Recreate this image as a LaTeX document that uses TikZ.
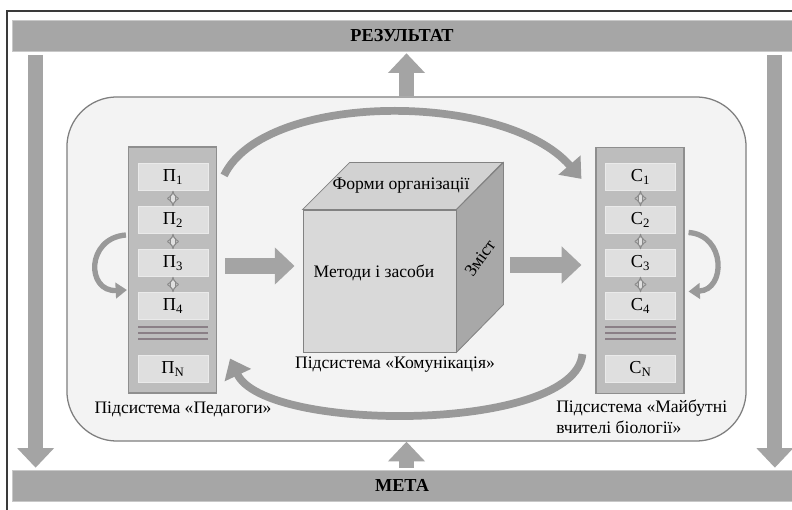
\documentclass[tikz,border=0pt]{standalone}
\usepackage{fontspec}
\setmainfont{Liberation Serif}
\usetikzlibrary{arrows.meta}

\definecolor{bargray}{HTML}{A6A6A6}
\definecolor{barline}{HTML}{C8C8C8}
\definecolor{framegray}{HTML}{3A3A3A}
\definecolor{sysgray}{HTML}{F3F3F3}
\definecolor{sysline}{HTML}{7F7F7F}
\definecolor{colgray}{HTML}{BDBDBD}
\definecolor{colline}{HTML}{8E8E8E}
\definecolor{boxgray}{HTML}{DFDFDF}
\definecolor{boxline}{HTML}{EAEAEA}
\definecolor{sepgray}{HTML}{8A7F86}
\definecolor{dblgray}{HTML}{8A8A8A}
\definecolor{arrowgray}{HTML}{A4A4A4}
\definecolor{curvegray}{HTML}{999999}
\definecolor{cubefront}{HTML}{D9D9D9}
\definecolor{cubetop}{HTML}{D2D2D2}
\definecolor{cubeside}{HTML}{A8A8A8}
\definecolor{cubeline}{HTML}{828282}

\begin{document}
\begin{tikzpicture}[x=0.025cm, y=-0.025cm,
  bar/.style={rectangle, fill=bargray, draw=barline, minimum width=19.5cm, minimum height=0.775cm, inner sep=0pt, font=\fontsize{13}{15}\selectfont\bfseries},
  column/.style={rectangle, fill=colgray, draw=colline, line width=0.8pt, minimum width=2.2cm, minimum height=6.15cm, inner sep=0pt},
  member/.style={rectangle, fill=boxgray, draw=boxline, minimum width=1.75cm, minimum height=0.675cm, inner sep=0pt, font=\fontsize{13}{15}\selectfont},
  blockarrow/.style={draw=arrowgray, line width=10.7pt, -{Triangle[width=25.5pt,length=14pt]}},
  curvearrow/.style={draw=curvegray, line width=5.5pt, -{Triangle[width=20pt,length=13pt]}},
  looparrow/.style={draw=curvegray, line width=3.8pt, -{Triangle[width=11pt,length=8pt]}},
  dblarrow/.style={draw=dblgray, double=boxgray, double distance=2.2pt, line width=0.7pt, {Implies}-{Implies}},
  sepline/.style={draw=sepgray, line width=1pt},
  caption/.style={font=\fontsize{12.5}{15}\selectfont, inner sep=0pt}]

\useasboundingbox (0,0) rectangle (792,510);
\fill[white] (0,0) rectangle (792,510);
\draw[framegray, line width=0.8pt] (7,510) -- (7,11) -- (792,11);

\node[bar] (res) at (402,35.5) {РЕЗУЛЬТАТ};
\node[bar] (meta) at (402,485.5) {МЕТА};

\node[rectangle, rounded corners=1.25cm, fill=sysgray, draw=sysline, line width=0.9pt, minimum width=16.975cm, minimum height=8.6cm, inner sep=0pt] (sys) at (406.5,269) {};

\draw[blockarrow] ([shift={(24,4)}]res.south west) -- ([shift={(24,-2)}]meta.north west);
\draw[blockarrow] ([shift={(-17.5,4)}]res.south east) -- ([shift={(-17.5,-2)}]meta.north east);
\draw[blockarrow] (sys.north) -- ([yshift=-0.05cm]sys.north |- res.south);
\draw[blockarrow] ([yshift=0.05cm]meta.north -| sys.south) -- (sys.south);

\node[column] (ped) at (172.5,270) {};
\node[member] (p1) at (173,177) {П\textsubscript{1}};
\node[member] (p2) at (173,220) {П\textsubscript{2}};
\node[member] (p3) at (173,263) {П\textsubscript{3}};
\node[member] (p4) at (173,306) {П\textsubscript{4}};
\node[member] (pN) at (173,369) {П\textsubscript{N}};
\draw[dblarrow] (p1) -- (p2);
\draw[dblarrow] (p2) -- (p3);
\draw[dblarrow] (p3) -- (p4);
\draw[sepline] (138,327) -- (208,327);
\draw[sepline] (138,333) -- (208,333);
\draw[sepline] (138,339) -- (208,339);
\node[caption] (pedlabel) at (183,409) {Підсистема «Педагоги»};

\node[column] (stud) at (640,270.5) {};
\node[member] (c1) at (640.5,177) {С\textsubscript{1}};
\node[member] (c2) at (640.5,220) {С\textsubscript{2}};
\node[member] (c3) at (640.5,263) {С\textsubscript{3}};
\node[member] (c4) at (640.5,306) {С\textsubscript{4}};
\node[member] (cN) at (640.5,369) {С\textsubscript{N}};
\draw[dblarrow] (c1) -- (c2);
\draw[dblarrow] (c2) -- (c3);
\draw[dblarrow] (c3) -- (c4);
\draw[sepline] (605,327) -- (676,327);
\draw[sepline] (605,333) -- (676,333);
\draw[sepline] (605,339) -- (676,339);
\node[caption, align=left, anchor=north west] (studlabel) at (556,400) {Підсистема «Майбутні\\вчителі біології»};

\node[rectangle, fill=cubefront, draw=cubeline, line width=0.6pt, minimum width=3.825cm, minimum height=3.55cm, inner sep=0pt] (cube) at (379.5,281) {};
\draw[cubeline, line width=0.6pt, fill=cubetop] (cube.north west) -- ++(47,-47) -- ++(153,0) -- (cube.north east) -- cycle;
\draw[cubeline, line width=0.6pt, fill=cubeside] (cube.north east) -- ++(47,-47) -- ++(0,142) -- (cube.south east) -- cycle;
\node[caption] (forms) at (401,186) {Форми організації};
\node[caption] (methods) at (374,273) {Методи і засоби};
\node[caption, rotate=55] (content) at (480,258) {Зміст};
\node[caption] (comlabel) at (395,365) {Підсистема «Комунікація»};

\draw[blockarrow] ([shift={(8,-4)}]ped.east) -- ([shift={(-8,-15)}]cube.west);
\draw[blockarrow] ([shift={(54,-16)}]cube.east) -- ([shift={(-14,-5.5)}]stud.west);

\draw[curvearrow] ([shift={(7,29)}]ped.north east) .. controls (265,91) and (505,91) .. ([shift={(-14,32)}]stud.north west);
\draw[curvearrow] ([shift={(-13,-40)}]stud.south west) .. controls (575,433) and (265,433) .. ([shift={(13,-35)}]ped.south east);

\draw[looparrow] ([shift={(-2,-35)}]ped.west) .. controls (86,238) and (86,292) .. ([shift={(-1,20)}]ped.west);
\draw[looparrow] ([shift={(4,-38)}]stud.east) .. controls (726,235) and (726,290) .. ([shift={(4,21)}]stud.east);
\end{tikzpicture}
\end{document}
